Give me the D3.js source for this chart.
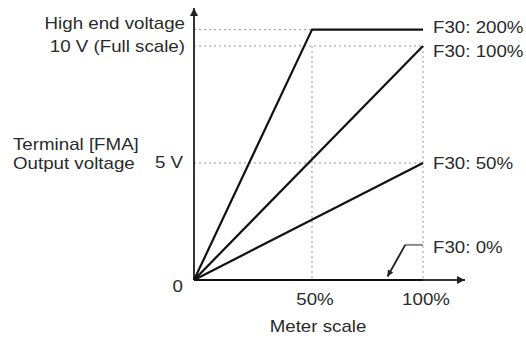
<!DOCTYPE html>
<html>
<head>
<meta charset="utf-8">
<script src="https://cdn.jsdelivr.net/npm/d3@7"></script>
<style>
  html, body { margin: 0; padding: 0; background: #fff; }
  svg { display: block; }
  text { font-family: "Liberation Sans", Arial, sans-serif; font-size: 16px; fill: #2a2a2a; }
</style>
</head>
<body>
<div id="chart"></div>
<script>
// --------------- Data ---------------
const HIGH_END = 10.7; // high end voltage, a bit above full scale
const FULL_SCALE = 10;
const HALF_SCALE = 5;

const seriesNames = ["F30: 200%", "F30: 100%", "F30: 50%", "F30: 0%"];
const meter200 = [0, 50, 100];
const volts200 = [0, HIGH_END, HIGH_END];
const meter100 = [0, 100];
const volts100 = [0, 10];
const meter50 = [0, 100];
const volts50 = [0, 5];
const meter0 = [0, 100];
const volts0 = [0, 0];

const xTickValues = [50, 100];
const xTickLabels = ["50%", "100%"];

// leader for the F30: 0% label (meter %, volts)
const leaderMeter = [100, 92, 84];
const leaderVolts = [1.5, 1.5, 0.15];

// --------------- Constants ---------------
const WIDTH = 526;
const HEIGHT = 338;
const STRETCH = 1.17; // the scanned text is a little wide

const svg = d3
  .select("#chart")
  .append("svg")
  .attr("width", WIDTH)
  .attr("height", HEIGHT);

// piecewise scale, the 50% guide sits a touch right of the middle
const x = d3.scaleLinear().domain([0, 50, 100]).range([194, 312, 423]);
const y = d3.scaleLinear().domain([0, 10]).range([280, 46]);

const zip = (a, b) => a.map((v, i) => [v, b[i]]);
const line = d3
  .line()
  .x((d) => x(d[0]))
  .y((d) => y(d[1]));

const defs = svg.append("defs");
defs.append("marker")
  .attr("id", "head")
  .attr("viewBox", "0 0 10 10")
  .attr("refX", 10)
  .attr("refY", 5)
  .attr("markerWidth", 4)
  .attr("markerHeight", 4)
  .attr("markerUnits", "strokeWidth")
  .attr("orient", "auto")
  .append("path")
  .attr("d", "M0,0L10,5L0,10Z")
  .attr("fill", "#222");

// slimmer, longer head for the leader
defs.append("marker")
  .attr("id", "leaderHead")
  .attr("viewBox", "0 0 10 10")
  .attr("refX", 10)
  .attr("refY", 5)
  .attr("markerWidth", 6)
  .attr("markerHeight", 3.5)
  .attr("markerUnits", "strokeWidth")
  .attr("orient", "auto")
  .append("path")
  .attr("d", "M0,0L10,5L0,10Z")
  .attr("fill", "#222");

// --------------- Dotted guides ---------------
const guides = svg.append("g").attr("stroke", "#999").attr("stroke-width", 1).attr("stroke-dasharray", "2,3");

guides.append("line")
  .attr("x1", x(0)).attr("x2", x(50))
  .attr("y1", y(HIGH_END)).attr("y2", y(HIGH_END));

[FULL_SCALE, HALF_SCALE].forEach((v) => {
  guides.append("line")
    .attr("x1", x(0)).attr("x2", x(100))
    .attr("y1", y(v)).attr("y2", y(v));
});

xTickValues.forEach((v) => {
  guides.append("line")
    .attr("x1", x(v)).attr("x2", x(v))
    .attr("y1", y(FULL_SCALE)).attr("y2", y(0));
});

// --------------- Axes ---------------
const axes = svg.append("g").attr("stroke", "#333").attr("stroke-width", 2);
axes.append("line")
  .attr("x1", x(0)).attr("y1", y(0))
  .attr("x2", x(0)).attr("y2", 8)
  .attr("marker-end", "url(#head)");
axes.append("line")
  .attr("x1", x(0)).attr("y1", y(0))
  .attr("x2", 465).attr("y2", y(0))
  .attr("marker-end", "url(#head)");

// --------------- Output lines ---------------
const series = [
  zip(meter200, volts200),
  zip(meter100, volts100),
  zip(meter50, volts50),
  zip(meter0, volts0),
];

svg
  .append("g")
  .selectAll("path")
  .data(series)
  .enter()
  .append("path")
  .attr("d", line)
  .attr("fill", "none")
  .attr("stroke", "#111")
  .attr("stroke-width", 2.2)
  .attr("stroke-linejoin", "round");

// leader for F30: 0%
const leader = zip(leaderMeter, leaderVolts);
svg.append("path")
  .attr("d", line(leader.slice(0, 2)))
  .attr("stroke", "#888")
  .attr("stroke-width", 2);
svg.append("path")
  .attr("d", line(leader.slice(1)))
  .attr("fill", "none")
  .attr("stroke", "#222")
  .attr("stroke-width", 1.8)
  .attr("marker-end", "url(#leaderHead)");

// --------------- Text ---------------
function label(px, py, txt, anchor) {
  svg.append("text")
    .attr("transform", `translate(${px},${py}) scale(${STRETCH},1)`)
    .attr("text-anchor", anchor || "start")
    .text(txt);
}

// left side
label(185, y(HIGH_END) - 1, "High end voltage", "end");
label(185, y(FULL_SCALE) + 6, "10 V (Full scale)", "end");
label(183, y(HALF_SCALE) + 5, "5 V", "end");
label(183, y(0) + 12, "0", "end");
label(13, 150, "Terminal [FMA]");
label(13, 169, "Output voltage");

// right side series labels
const seriesLabelY = [y(HIGH_END) + 3, y(FULL_SCALE) + 11, y(HALF_SCALE) + 6, y(leaderVolts[0]) + 8];
seriesNames.forEach((name, i) => label(433, seriesLabelY[i], name));

// x ticks
xTickValues.forEach((v, i) => label(x(v) + 3, y(0) + 25, xTickLabels[i], "middle"));
label(318, 332, "Meter scale", "middle");
</script>
</body>
</html>
